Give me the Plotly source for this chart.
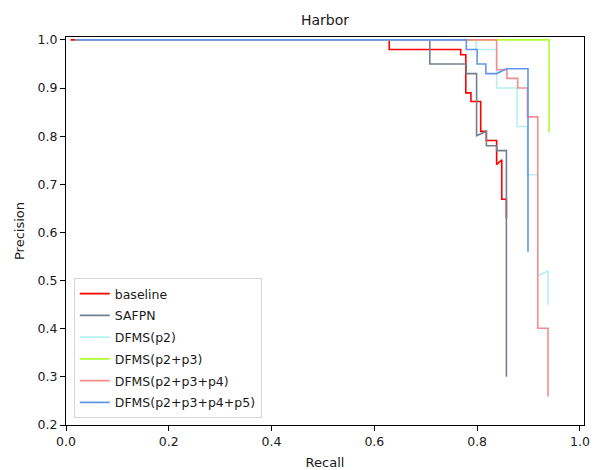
import plotly.graph_objects as go

# Precision-recall curves for the Harbor class
baseline_recall = [0.009, 0.629, 0.629, 0.768, 0.768, 0.778, 0.778, 0.788, 0.788, 0.807, 0.807,
                   0.818, 0.818, 0.838, 0.838, 0.848, 0.848, 0.857, 0.857]
baseline_precision = [1.0, 1.0, 0.98, 0.98, 0.969, 0.969, 0.890, 0.890, 0.872, 0.872, 0.810,
                      0.810, 0.791, 0.791, 0.741, 0.751, 0.669, 0.669, 0.63]

safpn_recall = [0.018, 0.708, 0.708, 0.779, 0.779, 0.799, 0.799, 0.818, 0.818, 0.838, 0.838, 0.857, 0.857]
safpn_precision = [1.0, 1.0, 0.95, 0.95, 0.930, 0.930, 0.801, 0.810, 0.780, 0.780, 0.770, 0.770, 0.30]

p2_recall = [0.018, 0.798, 0.798, 0.838, 0.838, 0.878, 0.878, 0.898, 0.898, 0.918, 0.918, 0.938, 0.938]
p2_precision = [1.0, 1.0, 0.98, 0.98, 0.90, 0.90, 0.82, 0.82, 0.72, 0.72, 0.51, 0.52, 0.45]

p23_recall = [0.018, 0.940, 0.940]
p23_precision = [1.0, 1.0, 0.808]

p234_recall = [0.018, 0.838, 0.838, 0.858, 0.858, 0.879, 0.879, 0.898, 0.898, 0.918, 0.918, 0.938, 0.938]
p234_precision = [1.0, 1.0, 0.938, 0.938, 0.920, 0.920, 0.900, 0.900, 0.840, 0.840, 0.401, 0.401, 0.259]

p2345_recall = [0.018, 0.779, 0.779, 0.800, 0.800, 0.817, 0.817, 0.838, 0.857, 0.899, 0.899]
p2345_precision = [1.0, 1.0, 0.98, 0.98, 0.95, 0.95, 0.93, 0.93, 0.94, 0.94, 0.56]

series = [
    ("baseline", baseline_recall, baseline_precision, "#ff0000"),
    ("SAFPN", safpn_recall, safpn_precision, "#708090"),
    ("DFMS(p2)", p2_recall, p2_precision, "#b4f0f0"),
    ("DFMS(p2+p3)", p23_recall, p23_precision, "#adff2f"),
    ("DFMS(p2+p3+p4)", p234_recall, p234_precision, "#f48e8e"),
    ("DFMS(p2+p3+p4+p5)", p2345_recall, p2345_precision, "#6495ed"),
]

x_ticks = [0.0, 0.2, 0.4, 0.6, 0.8, 1.0]
y_ticks = [0.2, 0.3, 0.4, 0.5, 0.6, 0.7, 0.8, 0.9, 1.0]

fig = go.Figure()
for name, rec, prec, color in series:
    fig.add_trace(go.Scatter(x=rec, y=prec, mode="lines", name=name, legendgroup=name,
                             line=dict(color=color, width=1.6)))

font_family = "DejaVu Sans"
fig.update_layout(
    width=596, height=470,
    margin=dict(l=66, r=12, t=37, b=45),
    paper_bgcolor="white", plot_bgcolor="white",
    font=dict(family=font_family, size=12.5, color="#1a1a1a"),
    title=dict(text="Harbor", x=0.5, xref="paper", xanchor="center",
               y=1 - 20 / 470, yanchor="middle", font=dict(size=14, color="#1a1a1a")),
    showlegend=True,
    legend=dict(x=0.015, y=0.018, xanchor="left", yanchor="bottom",
                bgcolor="rgba(255,255,255,0.8)", bordercolor="#d6d6d6", borderwidth=1,
                font=dict(size=12.5, color="#1a1a1a"), tracegroupgap=2.5),
)
fig.update_xaxes(range=[0.0, 1.008], tickvals=x_ticks, tickformat=".1f", automargin=False,
                 showline=True, linecolor="black", linewidth=1, mirror=True,
                 ticks="outside", ticklen=5, tickcolor="black", showgrid=False, zeroline=False,
                 title=dict(text="Recall", font=dict(size=13), standoff=10))
fig.update_yaxes(range=[0.2, 1.006], tickvals=y_ticks, tickformat=".1f", automargin=False,
                 showline=True, linecolor="black", linewidth=1, mirror=True,
                 ticks="outside", ticklen=5, tickcolor="black", showgrid=False, zeroline=False,
                 title=dict(text="Precision", font=dict(size=13), standoff=10))

fig.write_html("out.html")
